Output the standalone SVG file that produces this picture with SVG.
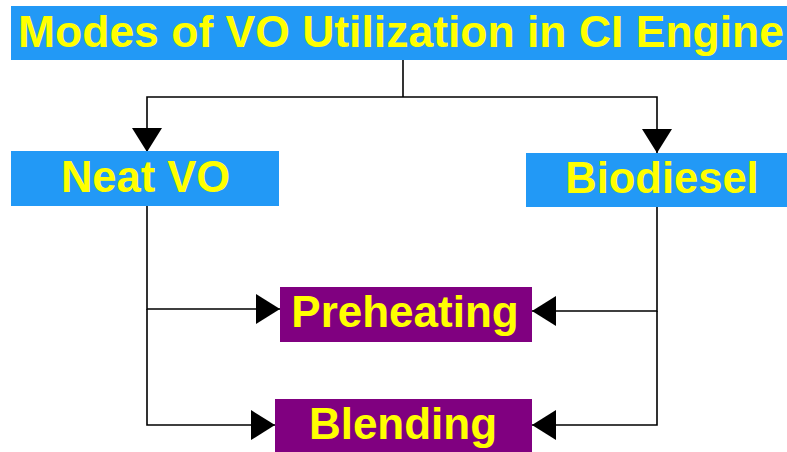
<svg xmlns="http://www.w3.org/2000/svg" width="787" height="452" viewBox="0 0 787 452">
<style>
.blue{fill:#2299f6}
.purple{fill:#800080}
.t{font-family:"Liberation Sans",Arial,sans-serif;font-weight:bold;fill:#ffff00;text-anchor:middle}
.c{fill:none;stroke:#000;stroke-width:1.6}
</style>
<defs>
<marker id="ah" viewBox="0 0 24 30" refX="24" refY="15" markerWidth="24" markerHeight="30" markerUnits="userSpaceOnUse" orient="auto">
<path d="M0,0 L24,15 L0,30 z" fill="#000"/>
</marker>
</defs>
<rect width="787" height="452" fill="#fff"/>
<g id="connectors">
<path class="c" d="M403,60 V97"/>
<path class="c" d="M403,97 H147 V152" marker-end="url(#ah)"/>
<path class="c" d="M403,97 H657 V153" marker-end="url(#ah)"/>
<path class="c" d="M147,206 V309 H280" marker-end="url(#ah)"/>
<path class="c" d="M147,309 V425 H275" marker-end="url(#ah)"/>
<path class="c" d="M657,207 V311 H532" marker-end="url(#ah)"/>
<path class="c" d="M657,311 V425 H532" marker-end="url(#ah)"/>
</g>
<g id="title">
<rect class="blue" x="11" y="6" width="776" height="54"/>
<text class="t" x="401" y="47" font-size="44.5" textLength="766" lengthAdjust="spacingAndGlyphs">Modes of VO Utilization in CI Engine</text>
</g>
<g id="neat-vo">
<rect class="blue" x="11" y="151" width="268" height="55"/>
<text class="t" x="145.5" y="192" font-size="43.5">Neat VO</text>
</g>
<g id="biodiesel">
<rect class="blue" x="526" y="153" width="261" height="54"/>
<text class="t" x="662" y="193" font-size="43.5">Biodiesel</text>
</g>
<g id="preheating">
<rect class="purple" x="280" y="287" width="252" height="55"/>
<text class="t" x="405" y="327" font-size="44">Preheating</text>
</g>
<g id="blending">
<rect class="purple" x="275" y="399" width="257" height="53"/>
<text class="t" x="403" y="439" font-size="44">Blending</text>
</g>
</svg>
